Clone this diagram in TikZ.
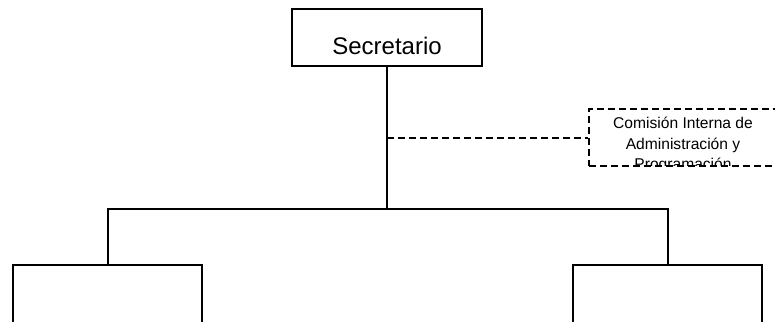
\documentclass[tikz,border=0pt]{standalone}
\usepackage{fontspec}
\setmainfont{Liberation Sans}
\begin{document}
\begin{tikzpicture}[x=1pt,y=-1pt,
  orgline/.style={line width=2pt, black},
  orgbox/.style={draw, line width=2pt, rectangle, inner sep=0pt, minimum width=190pt, minimum height=57pt},
  dashbox/.style={draw, line width=2pt, rectangle, inner sep=0pt, dash pattern=on 7pt off 4pt, minimum width=188pt, minimum height=57pt},
  dashline/.style={line width=2pt, dash pattern=on 7pt off 4pt},
  bigtxt/.style={font=\fontsize{24}{28}\selectfont, inner sep=0pt, anchor=base},
  smalltxt/.style={font=\fontsize{15.6}{20.5}\selectfont, inner sep=0pt, anchor=base}]
\useasboundingbox (0,0) rectangle (775,321);
\clip (0,0) rectangle (775,321);
% boxes
\node[orgbox] (sec) at (387,37.5) {};
\node[bigtxt] (sectxt) at (387,55) {Secretario};
\node[orgbox, minimum width=189pt, minimum height=120pt, anchor=north] (lbox) at (107.5,264) {};
\node[orgbox, minimum width=189pt, minimum height=120pt, anchor=north] (rbox) at (667.5,264) {};
% committee
\begin{scope}
  \clip (589,109) rectangle (777,165);
  \node[smalltxt] (cim1) at (683,128) {Comisión Interna de};
  \node[smalltxt] (cim2) at (683,149) {Administración y};
  \node[smalltxt] (cim3) at (683,169.5) {Programación};
\end{scope}
\node[dashbox] (cim) at (683,137.5) {};
% connectors
\coordinate (bus) at (387,209);
\draw[orgline] (sec.south) -- (bus);
\draw[orgline] (lbox.north) -- (lbox.north |- bus) -- (rbox.north |- bus) -- (rbox.north);
\draw[dashline] (sec.south |- cim.west) -- (cim.west);
\end{tikzpicture}
\end{document}
